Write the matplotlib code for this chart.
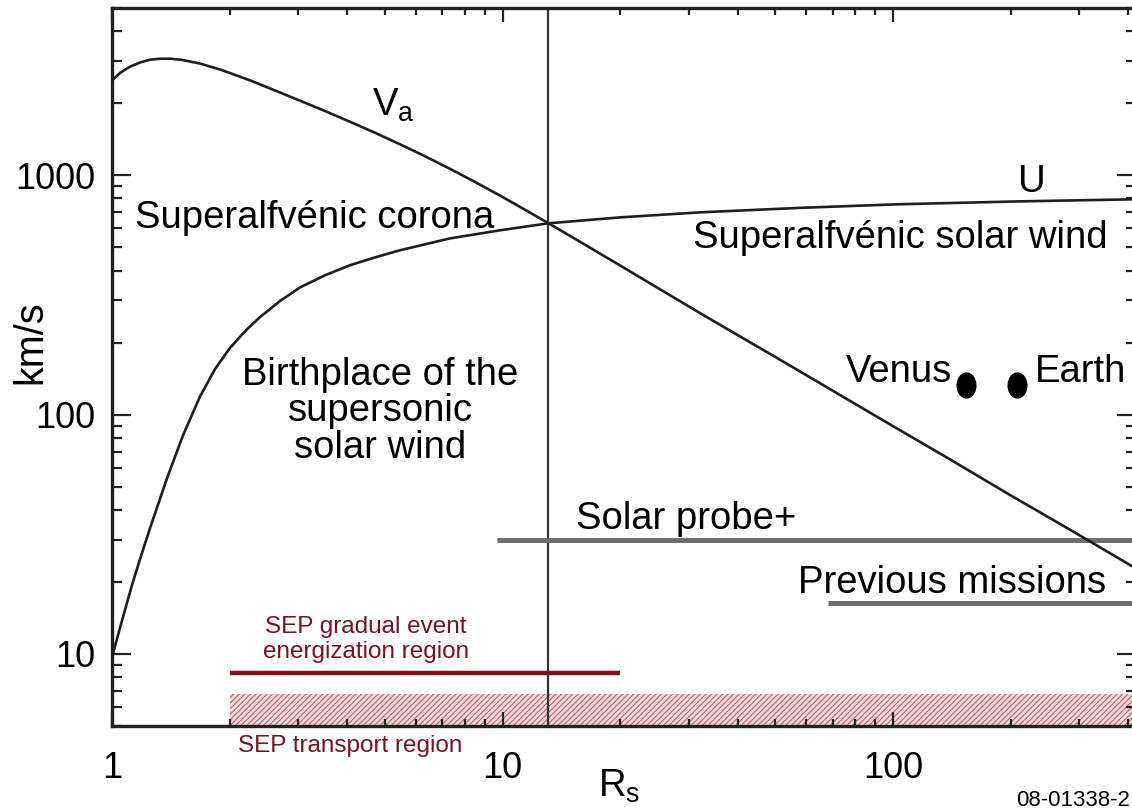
import numpy as np
import matplotlib.pyplot as plt
from matplotlib.markers import MarkerStyle
from matplotlib.transforms import Affine2D

plt.rcParams['font.family'] = ['Liberation Sans', 'DejaVu Sans']
plt.rcParams['mathtext.fontset'] = 'custom'
plt.rcParams['mathtext.rm'] = 'Liberation Sans'
plt.rcParams['hatch.linewidth'] = 0.8

# distance from the Sun in solar radii
va_r = [1.0, 1.05, 1.11, 1.18, 1.25, 1.33, 1.41, 1.52, 1.68, 1.9, 2.26, 2.6,
        3.03, 3.5, 4.07, 4.7, 5.46, 6.3, 7.34, 8.5, 9.85, 11.4, 13.1, 16,
        20, 25, 32, 40, 50, 70, 100, 140, 200, 290, 420]
# Alfven speed, km/s
va_kms = [2490, 2680, 2840, 2960, 3040, 3070, 3070, 3030, 2930, 2760, 2490,
          2270, 2050, 1860, 1673, 1509, 1348, 1206, 1064, 938, 823, 719, 631,
          521, 420, 338, 266, 215, 174, 126, 89.5, 65, 46, 32.4, 22.7]

u_r = [1.0, 1.061, 1.125, 1.186, 1.251, 1.383, 1.52, 1.68, 1.836, 2.0, 2.19,
       2.39, 2.69, 3.03, 3.51, 4.07, 4.72, 5.46, 7.34, 9.85, 13.1, 20, 32,
       57.8, 104, 211, 420]
# solar wind speed, km/s
u_kms = [9.7, 13.8, 19.4, 25.6, 33.5, 54.2, 81.9, 119, 155, 189, 223, 255,
         298, 340, 382, 421, 454, 486, 545, 589, 630, 667, 700, 731, 757,
         778, 794]

alfven_point = 13.1

probe_span = [9.7, 420]
probe_speed = 30
prev_span = [68, 420]
prev_speed = 16.4

sep_event_span = [2, 20]
sep_event_level = 8.3
sep_transport_span = [2, 420]
sep_transport_top = 6.8

planets = ['Venus', 'Earth']
planet_r = [154, 208]
planet_kms = [133, 133]

maroon = '#7d0f22'

fig = plt.figure(figsize=(11.32, 8.09), dpi=100)
ax = fig.add_axes([112 / 1132, 83 / 809, 1024.4 / 1132, 718 / 809])
ax.set_xscale('log')
ax.set_yscale('log')
ax.set_xlim(1, 420)
ax.set_ylim(5, 5000)

ax.fill_between(sep_transport_span, 5, sep_transport_top, facecolor='#f3d9de',
                edgecolor='#b5606f', hatch='//////', linewidth=0, zorder=1)
ax.axvline(alfven_point, color='#333333', lw=1.6, zorder=2)

ax.plot(va_r, va_kms, color='#1e1e1e', lw=1.9, zorder=3)
ax.plot(u_r, u_kms, color='#1e1e1e', lw=1.9, zorder=3)

ax.plot(probe_span, [probe_speed] * 2, color='#6e6e6e', lw=3.6, zorder=2,
        solid_capstyle='butt')
ax.plot(prev_span, [prev_speed] * 2, color='#6e6e6e', lw=3.6, zorder=2,
        solid_capstyle='butt')
ax.plot(sep_event_span, [sep_event_level] * 2, color=maroon, lw=3.2,
        solid_capstyle='butt', zorder=2)

dot = MarkerStyle('o', transform=Affine2D().scale(0.75, 1.0))
ax.scatter(planet_r, planet_kms, marker=dot, s=320, color='black', zorder=4)

big = 27.5
ax.text(4.63, 1778, r'V$_\mathregular{a}$', fontsize=big)
ax.text(209, 849, 'U', fontsize=big)
ax.text(1.145, 600, 'Superalfvénic corona', fontsize=big)
ax.text(355, 495, 'Superalfvénic solar wind', fontsize=big, ha='right')
for line, y in zip(['Birthplace of the', 'supersonic', 'solar wind'],
                   [132.6, 93.8, 65.6]):
    ax.text(4.86, y, line, fontsize=big, ha='center')
ax.text(141.6, 136.4, planets[0], fontsize=big, ha='right')
ax.text(231, 136.4, planets[1], fontsize=big)
ax.text(15.4, 33.2, 'Solar probe+', fontsize=big)
ax.text(57.1, 17.9, 'Previous missions', fontsize=big)

small = 17.5
ax.text(4.47, 12.2, 'SEP gradual event', fontsize=small, color=maroon,
        ha='center')
ax.text(4.47, 9.58, 'energization region', fontsize=small, color=maroon,
        ha='center')
ax.text(4.07, 3.88, 'SEP transport region', fontsize=small, color=maroon,
        ha='center', clip_on=False)

fig.text(598 / 1132, 1 - 797 / 809, r'R$_\mathregular{s}$', fontsize=big)
fig.text(30 / 1132, 1 - 342 / 809, 'km/s', fontsize=28.5, rotation=90,
         ha='center', va='center')
fig.text(1016 / 1132, 1 - 806 / 809, '08-01338-2', fontsize=16)

for s in ax.spines.values():
    s.set_linewidth(2.4)
    s.set_color('#222222')

ax.set_xticks([1, 10, 100])
ax.set_xticklabels(['1', '10', '100'])
ax.set_yticks([10, 100, 1000])
ax.set_yticklabels(['10', '100', '1000'])
ax.tick_params(which='both', direction='in', top=True, right=True,
               width=1.6, color='#222222', labelsize=26)
ax.tick_params(axis='y', which='major', length=14, pad=12)
ax.tick_params(axis='y', which='minor', length=7)
ax.tick_params(axis='x', which='major', length=10, pad=18)
ax.tick_params(axis='x', which='minor', length=5)

fig.savefig('out.png', dpi=100)
